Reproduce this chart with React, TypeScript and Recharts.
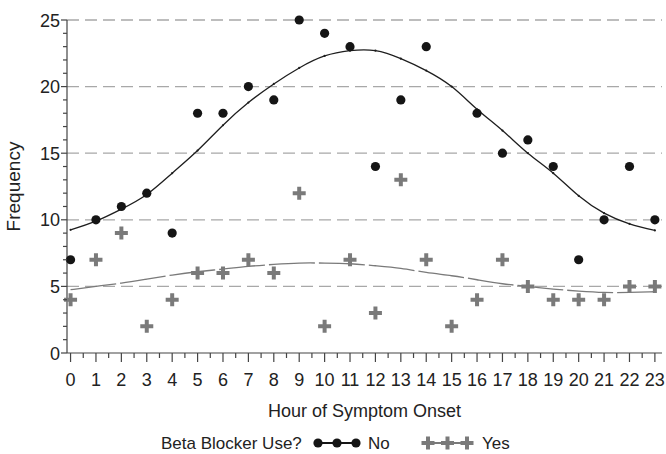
import React from 'react';
import { ComposedChart, Line, Scatter, XAxis, YAxis, ReferenceLine, Label } from 'recharts';

const hours = [0, 1, 2, 3, 4, 5, 6, 7, 8, 9, 10, 11, 12, 13, 14, 15, 16, 17, 18, 19, 20, 21, 22, 23];
const noCounts = [7, 10, 11, 12, 9, 18, 18, 20, 19, 25, 24, 23, 14, 19, 23, null, 18, 15, 16, 14, 7, 10, 14, 10];
const yesCounts = [4, 7, 9, 2, 4, 6, 6, 7, 6, 12, 2, 7, 3, 13, 7, 2, 4, 7, 5, 4, 4, 4, 5, 5];
const noFit = [9.25, 9.9, 10.8, 11.9, 13.5, 15.2, 17.1, 18.8, 20.2, 21.4, 22.3, 22.7, 22.7, 22.1, 21.2, 20.0, 18.3, 16.7, 15.0, 13.5, 11.8, 10.5, 9.7, 9.2];
const yesFit = [4.75, 5.0, 5.25, 5.55, 5.85, 6.1, 6.3, 6.5, 6.65, 6.75, 6.75, 6.7, 6.55, 6.35, 6.05, 5.8, 5.5, 5.2, 5.0, 4.8, 4.65, 4.55, 4.55, 4.6];
const yTicks = [0, 1, 2, 3, 4, 5, 6, 7, 8, 9, 10, 11, 12, 13, 14, 15, 16, 17, 18, 19, 20, 21, 22, 23, 24, 25];
const gridValues = [5, 10, 15, 20, 25];
const xTicks = hours.flatMap((h) => (h < 23 ? [h, h + 0.5] : [h]));

const rows = hours.map((h, i) => ({
  hour: h,
  no: noCounts[i],
  yes: yesCounts[i],
  noFit: noFit[i],
  yesFit: yesFit[i],
}));
const noPoints = rows.filter((r) => r.no !== null);
const yesPoints = rows.filter((r) => r.yes !== null);

const FONT = '"Liberation Sans", Arial, Helvetica, sans-serif';
const TEXT = '#222';
const AXIS = '#444';
const GREY = '#7a7a7a';

const XTick = (props: any) => {
  const { x, y, payload } = props;
  const v = payload.value;
  const major = Number.isInteger(v);
  return (
    <g>
      <line x1={x} x2={x} y1={y} y2={y + (major ? 9 : 5)} stroke={AXIS} strokeWidth={1.2} />
      {major && (
        <text x={x} y={y + 33} textAnchor="middle" fontSize={18} fontFamily={FONT} fill={TEXT}>
          {v}
        </text>
      )}
    </g>
  );
};

const YTick = (props: any) => {
  const { x, y, payload } = props;
  const v = payload.value;
  const major = v % 5 === 0;
  return (
    <g>
      <line x1={x} x2={x - (major ? 6 : 4)} y1={y} y2={y} stroke={AXIS} strokeWidth={1.2} />
      {major && (
        <text x={x - 7} y={y + 6.5} textAnchor="end" fontSize={18} fontFamily={FONT} fill={TEXT}>
          {v}
        </text>
      )}
    </g>
  );
};

const Dot = (props: any) => {
  const { cx, cy } = props;
  if (cx == null || cy == null) return null;
  return <circle cx={cx} cy={cy} r={4.6} fill="#151515" />;
};

const Cross = (props: any) => {
  const { cx, cy } = props;
  if (cx == null || cy == null) return null;
  const s = 6.5;
  const t = 2;
  return (
    <path
      d={`M${cx - t},${cy - s}H${cx + t}V${cy - t}H${cx + s}V${cy + t}H${cx + t}V${cy + s}H${cx - t}V${cy + t}H${cx - s}V${cy - t}H${cx - t}Z`}
      fill={GREY}
    />
  );
};

export default function App() {
  return (
    <div style={{ position: 'absolute', left: 0, top: 0, width: 666, height: 454, background: '#fff' }}>
      <ComposedChart width={666} height={454} data={rows} margin={{ top: 20, right: 4, bottom: 0, left: 0 }}>
        <XAxis
          type="number"
          dataKey="hour"
          domain={[-0.14, 23.28]}
          ticks={xTicks}
          interval={0}
          height={101}
          tickSize={0}
          tickMargin={0}
          tickLine={false}
          axisLine={{ stroke: AXIS, strokeWidth: 1.2 }}
          tick={<XTick />}
        >
          <Label
            content={(p: any) => {
              const vb = p.viewBox || { x: 67, y: 353, width: 595 };
              return (
                <text x={vb.x + vb.width / 2} y={vb.y + 64} textAnchor="middle" fontSize={18} fontFamily={FONT} fill={TEXT}>
                  Hour of Symptom Onset
                </text>
              );
            }}
          />
        </XAxis>
        <YAxis
          type="number"
          domain={[0, 25]}
          ticks={yTicks}
          interval={0}
          width={67}
          tickSize={0}
          tickMargin={0}
          tickLine={false}
          axisLine={{ stroke: AXIS, strokeWidth: 1.2 }}
          tick={<YTick />}
        >
          <Label
            content={(p: any) => {
              const vb = p.viewBox || { x: 0, y: 20, height: 333 };
              const cx = vb.x + 20;
              const cy = vb.y + vb.height / 2;
              return (
                <text
                  x={cx}
                  y={cy}
                  transform={`rotate(-90, ${cx}, ${cy})`}
                  textAnchor="middle"
                  fontSize={19}
                  fontFamily={FONT}
                  fill={TEXT}
                >
                  Frequency
                </text>
              );
            }}
          />
        </YAxis>
        {gridValues.map((g) => (
          <ReferenceLine key={g} y={g} stroke="#a8a8a8" strokeWidth={1.3} strokeDasharray="12 6" ifOverflow="extendDomain" />
        ))}
        <Line
          dataKey="yesFit"
          type="natural"
          stroke={GREY}
          strokeWidth={1.3}
          strokeDasharray="46 4"
          dot={false}
          activeDot={false}
          isAnimationActive={false}
        />
        <Line
          dataKey="noFit"
          type="natural"
          stroke="#1e1e1e"
          strokeWidth={1.3}
          dot={{ r: 1.1, fill: '#1e1e1e', stroke: 'none' }}
          activeDot={false}
          isAnimationActive={false}
        />
        <Scatter data={yesPoints} dataKey="yes" shape={<Cross />} isAnimationActive={false} />
        <Scatter data={noPoints} dataKey="no" shape={<Dot />} isAnimationActive={false} />
      </ComposedChart>
      <svg width={666} height={454} style={{ position: 'absolute', left: 0, top: 0, pointerEvents: 'none' }}>
        <text x={161} y={449} fontSize={17} fontFamily={FONT} fill={TEXT}>
          Beta Blocker Use?
        </text>
        <line x1={318} x2={356} y1={443} y2={443} stroke="#151515" strokeWidth={2} />
        <Dot cx={318} cy={443} />
        <Dot cx={337} cy={443} />
        <Dot cx={356} cy={443} />
        <text x={368} y={449} fontSize={17} fontFamily={FONT} fill={TEXT}>
          No
        </text>
        <line x1={428} x2={467} y1={443} y2={443} stroke={GREY} strokeWidth={2} />
        <Cross cx={428} cy={443} />
        <Cross cx={447.5} cy={443} />
        <Cross cx={467} cy={443} />
        <text x={482} y={449} fontSize={17} fontFamily={FONT} fill={TEXT}>
          Yes
        </text>
      </svg>
    </div>
  );
}
